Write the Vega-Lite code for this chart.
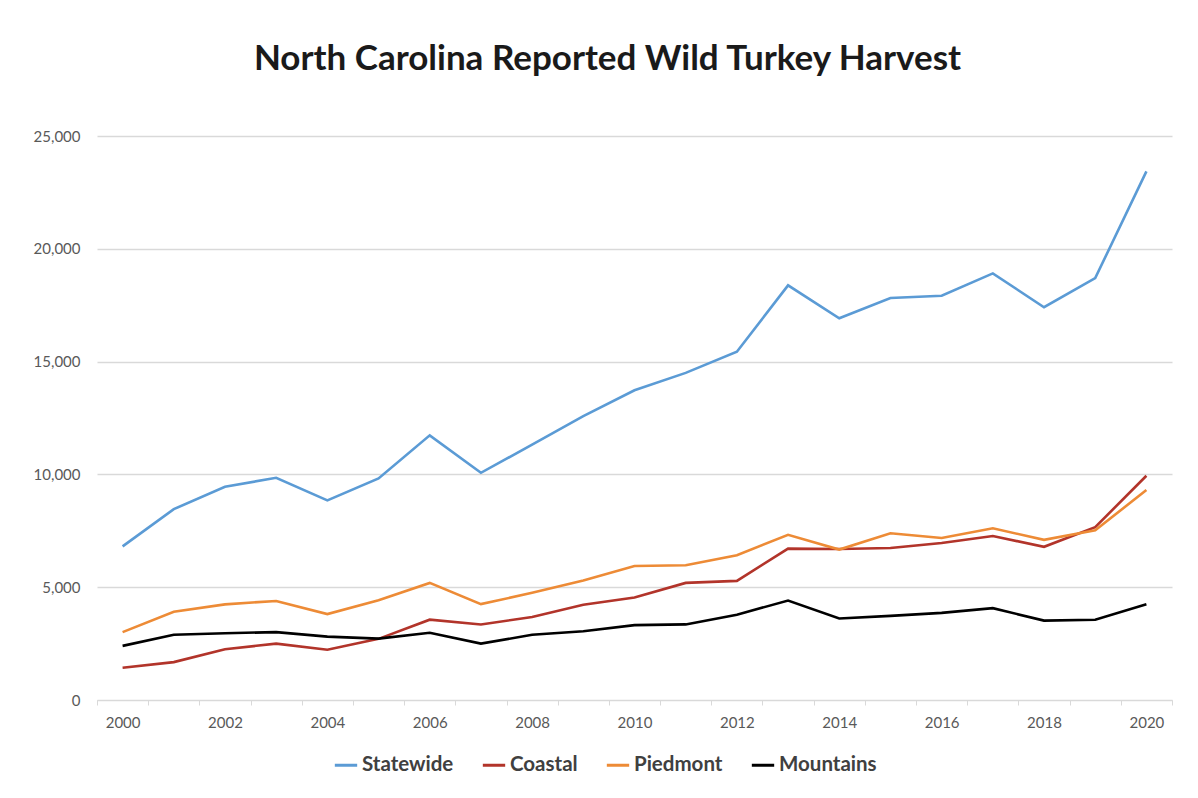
{
  "$schema": "https://vega.github.io/schema/vega-lite/v6.json",
  "autosize": "none",
  "width": 1075,
  "height": 564,
  "padding": {"left": 97, "top": 136, "right": 26, "bottom": 98},
  "background": "white",
  "title": {
    "text": "North Carolina Reported Wild Turkey Harvest",
    "anchor": "middle",
    "font": "Lato",
    "fontSize": 35,
    "fontWeight": "bold",
    "color": "#1a1a1a",
    "offset": 52,
    "dx": -27
  },
  "data": {"values": [
    {"year": 2000, "series": "Statewide", "value": 6810},
    {"year": 2001, "series": "Statewide", "value": 8460},
    {"year": 2002, "series": "Statewide", "value": 9450},
    {"year": 2003, "series": "Statewide", "value": 9850},
    {"year": 2004, "series": "Statewide", "value": 8850},
    {"year": 2005, "series": "Statewide", "value": 9820},
    {"year": 2006, "series": "Statewide", "value": 11730},
    {"year": 2007, "series": "Statewide", "value": 10070},
    {"year": 2008, "series": "Statewide", "value": 11320},
    {"year": 2009, "series": "Statewide", "value": 12580},
    {"year": 2010, "series": "Statewide", "value": 13730},
    {"year": 2011, "series": "Statewide", "value": 14500},
    {"year": 2012, "series": "Statewide", "value": 15440},
    {"year": 2013, "series": "Statewide", "value": 18380},
    {"year": 2014, "series": "Statewide", "value": 16920},
    {"year": 2015, "series": "Statewide", "value": 17820},
    {"year": 2016, "series": "Statewide", "value": 17920},
    {"year": 2017, "series": "Statewide", "value": 18910},
    {"year": 2018, "series": "Statewide", "value": 17410},
    {"year": 2019, "series": "Statewide", "value": 18700},
    {"year": 2020, "series": "Statewide", "value": 23430},
    {"year": 2000, "series": "Coastal", "value": 1430},
    {"year": 2001, "series": "Coastal", "value": 1680},
    {"year": 2002, "series": "Coastal", "value": 2250},
    {"year": 2003, "series": "Coastal", "value": 2500},
    {"year": 2004, "series": "Coastal", "value": 2230},
    {"year": 2005, "series": "Coastal", "value": 2710},
    {"year": 2006, "series": "Coastal", "value": 3560},
    {"year": 2007, "series": "Coastal", "value": 3350},
    {"year": 2008, "series": "Coastal", "value": 3680},
    {"year": 2009, "series": "Coastal", "value": 4220},
    {"year": 2010, "series": "Coastal", "value": 4540},
    {"year": 2011, "series": "Coastal", "value": 5190},
    {"year": 2012, "series": "Coastal", "value": 5280},
    {"year": 2013, "series": "Coastal", "value": 6710},
    {"year": 2014, "series": "Coastal", "value": 6690},
    {"year": 2015, "series": "Coastal", "value": 6740},
    {"year": 2016, "series": "Coastal", "value": 6960},
    {"year": 2017, "series": "Coastal", "value": 7270},
    {"year": 2018, "series": "Coastal", "value": 6790},
    {"year": 2019, "series": "Coastal", "value": 7660},
    {"year": 2020, "series": "Coastal", "value": 9940},
    {"year": 2000, "series": "Piedmont", "value": 3010},
    {"year": 2001, "series": "Piedmont", "value": 3910},
    {"year": 2002, "series": "Piedmont", "value": 4240},
    {"year": 2003, "series": "Piedmont", "value": 4390},
    {"year": 2004, "series": "Piedmont", "value": 3810},
    {"year": 2005, "series": "Piedmont", "value": 4420},
    {"year": 2006, "series": "Piedmont", "value": 5190},
    {"year": 2007, "series": "Piedmont", "value": 4250},
    {"year": 2008, "series": "Piedmont", "value": 4750},
    {"year": 2009, "series": "Piedmont", "value": 5300},
    {"year": 2010, "series": "Piedmont", "value": 5940},
    {"year": 2011, "series": "Piedmont", "value": 5970},
    {"year": 2012, "series": "Piedmont", "value": 6420},
    {"year": 2013, "series": "Piedmont", "value": 7320},
    {"year": 2014, "series": "Piedmont", "value": 6670},
    {"year": 2015, "series": "Piedmont", "value": 7390},
    {"year": 2016, "series": "Piedmont", "value": 7180},
    {"year": 2017, "series": "Piedmont", "value": 7610},
    {"year": 2018, "series": "Piedmont", "value": 7100},
    {"year": 2019, "series": "Piedmont", "value": 7520},
    {"year": 2020, "series": "Piedmont", "value": 9310},
    {"year": 2000, "series": "Mountains", "value": 2400},
    {"year": 2001, "series": "Mountains", "value": 2890},
    {"year": 2002, "series": "Mountains", "value": 2960},
    {"year": 2003, "series": "Mountains", "value": 3010},
    {"year": 2004, "series": "Mountains", "value": 2810},
    {"year": 2005, "series": "Mountains", "value": 2720},
    {"year": 2006, "series": "Mountains", "value": 2980},
    {"year": 2007, "series": "Mountains", "value": 2500},
    {"year": 2008, "series": "Mountains", "value": 2890},
    {"year": 2009, "series": "Mountains", "value": 3050},
    {"year": 2010, "series": "Mountains", "value": 3320},
    {"year": 2011, "series": "Mountains", "value": 3350},
    {"year": 2012, "series": "Mountains", "value": 3780},
    {"year": 2013, "series": "Mountains", "value": 4410},
    {"year": 2014, "series": "Mountains", "value": 3610},
    {"year": 2015, "series": "Mountains", "value": 3730},
    {"year": 2016, "series": "Mountains", "value": 3860},
    {"year": 2017, "series": "Mountains", "value": 4070},
    {"year": 2018, "series": "Mountains", "value": 3520},
    {"year": 2019, "series": "Mountains", "value": 3560},
    {"year": 2020, "series": "Mountains", "value": 4240}
  ]},
  "mark": {"type": "line", "strokeWidth": 2.6},
  "encoding": {
    "x": {
      "field": "year",
      "type": "ordinal",
      "bandPosition": 0.5,
      "scale": {"type": "band", "paddingInner": 0, "paddingOuter": 0},
      "axis": {
        "title": null,
        "labelAngle": 0,
        "tickBand": "extent",
        "tickSize": 5,
        "tickColor": "#d9d9d9",
        "domainColor": "#d9d9d9",
        "labelPadding": 10,
        "labelExpr": "datum.value % 2 == 0 ? datum.label : ''",
        "labelFont": "Lato",
        "labelFontSize": 15,
        "labelColor": "#595959",
        "grid": false
      }
    },
    "y": {
      "field": "value",
      "type": "quantitative",
      "scale": {"domain": [0, 25000]},
      "axis": {
        "title": null,
        "values": [0, 5000, 10000, 15000, 20000, 25000],
        "format": ",.0f",
        "domain": false,
        "ticks": false,
        "labelPadding": 17,
        "labelFont": "Lato",
        "labelFontSize": 15,
        "labelColor": "#595959",
        "gridColor": "#d9d9d9",
        "gridWidth": 1.3
      }
    },
    "color": {
      "field": "series",
      "type": "nominal",
      "sort": ["Statewide", "Coastal", "Piedmont", "Mountains"],
      "scale": {
        "domain": ["Statewide", "Coastal", "Piedmont", "Mountains"],
        "range": ["#5B9BD5", "#B2342A", "#ED8B36", "#000000"]
      },
      "legend": {
        "title": null,
        "orient": "none",
        "legendX": 236,
        "legendY": 616,
        "direction": "horizontal",
        "symbolType": "stroke",
        "symbolStrokeWidth": 3,
        "symbolSize": 500,
        "labelFont": "Lato",
        "labelFontSize": 20.5,
        "labelFontWeight": "bold",
        "labelColor": "#404040",
        "labelOffset": 3,
        "columnPadding": 22
      }
    }
  },
  "config": {
    "view": {"stroke": null}
  }
}
